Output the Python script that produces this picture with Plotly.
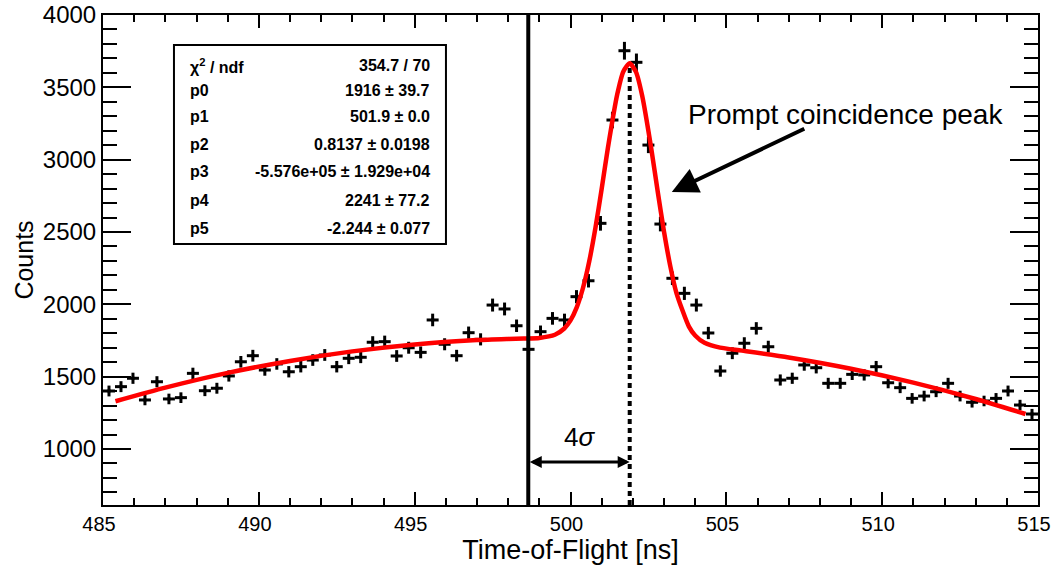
import numpy as np
import plotly.graph_objects as go

# ---------------- data ----------------
BIN_LO, BIN_HI, N_BINS = 485.0, 515.0, 78
COUNTS = [1401, 1431, 1489, 1339, 1465, 1346, 1355, 1523, 1403, 1420,
          1505, 1603, 1645, 1546, 1588, 1534, 1569, 1615, 1650, 1569,
          1627, 1634, 1738, 1742, 1643, 1700, 1668, 1892, 1724, 1645,
          1804, 1758, 1995, 1968, 1852, 1689, 1811, 1903, 1892, 2053,
          2163, 2560, 3274, 3753, 3673, 3101, 2555, 2180, 2076, 1995,
          1802, 1539, 1662, 1731, 1834, 1707, 1477, 1489, 1581, 1562,
          1454, 1454, 1516, 1512, 1569, 1458, 1424, 1350, 1366, 1396,
          1454, 1366, 1323, 1332, 1350, 1401, 1304, 1242]

FIT_X = [485.4, 487, 489, 491, 493, 495, 497, 498, 498.5, 499, 499.5, 499.8,
         500, 500.2, 500.4, 500.6, 500.8, 501.0, 501.2, 501.5, 501.7, 501.9,
         502.1, 502.3, 502.6, 502.8, 503.0, 503.2, 503.4, 503.8, 504.0, 504.3,
         504.8, 505.5, 507, 509, 511, 513, 514.6]
FIT_Y = [1330, 1424, 1526, 1609, 1675, 1723, 1753, 1761, 1764, 1768, 1790, 1833,
         1889, 1979, 2113, 2296, 2528, 2798, 3081, 3452, 3612, 3667,
         3607, 3442, 3065, 2777, 2503, 2266, 2078, 1846, 1785, 1734,
         1701, 1680, 1633, 1555, 1459, 1346, 1242]

FIT_MEAN = 501.9
FIT_SIGMA = 0.8137

STAT_NAMES = ["χ<sup>2</sup> / ndf", "p0", "p1", "p2", "p3", "p4", "p5"]
STAT_VALUES = ["354.7 / 70", "1916 ± 39.7", "501.9 ± 0.0", "0.8137 ± 0.0198",
               "-5.576e+05 ± 1.929e+04", "2241 ± 77.2", "-2.244 ± 0.077"]

X_TICKS = [485, 490, 495, 500, 505, 510, 515]
Y_TICKS = [1000, 1500, 2000, 2500, 3000, 3500, 4000]
X_RANGE = [485, 515.0001]
Y_RANGE = [613, 4000.0001]

PEAK_LABEL = "Prompt coincidence peak"
PEAK_LABEL_POS = (503.7, 3309)
ARROW_TAIL = (507.55, 3219)
ARROW_HEAD = (503.25, 2777)
SIGMA_ARROW_Y = 910
SIGMA_LABEL_POS = (500.3, 1083)

FONT = "Liberation Sans"

# ---------------- figure ----------------
bin_width = (BIN_HI - BIN_LO) / N_BINS
centers = BIN_LO + bin_width * (np.arange(N_BINS) + 0.5)

fig = go.Figure()
fig.add_trace(go.Scatter(
    x=centers, y=COUNTS, mode="markers",
    marker=dict(color="black", size=3, symbol="square"),
    error_x=dict(type="constant", value=bin_width / 2, thickness=3, width=0, color="black"),
    error_y=dict(type="sqrt", thickness=3, width=0, color="black"),
    hoverinfo="x+y",
))
fig.add_trace(go.Scatter(
    x=FIT_X, y=FIT_Y, mode="lines",
    line=dict(color="#ff0000", width=4.5, shape="spline", smoothing=0.6),
))

left_edge = FIT_MEAN - 4 * FIT_SIGMA
shapes = [
    dict(type="line", xref="x", yref="y domain", x0=left_edge, x1=left_edge, y0=0, y1=1,
         line=dict(color="black", width=4)),
    dict(type="line", xref="x", yref="y", x0=FIT_MEAN, x1=FIT_MEAN, y0=Y_RANGE[0], y1=max(FIT_Y),
         line=dict(color="black", width=4, dash="5px,4px"), layer="below"),
    dict(type="rect", xref="paper", yref="paper", x0=0.0759, x1=0.3668, y0=0.5327, y1=0.9388,
         line=dict(color="black", width=2), fillcolor="white"),
]

annotations = []
row_y = [0.8965, 0.8469, 0.7924, 0.7347, 0.6802, 0.6224, 0.5653]
for name, val, yy in zip(STAT_NAMES, STAT_VALUES, row_y):
    annotations.append(dict(xref="paper", yref="paper", x=0.0909, y=yy, text=name,
                            showarrow=False, xanchor="left", yanchor="middle",
                            font=dict(family=FONT, size=16, color="black", weight="bold")))
    annotations.append(dict(xref="paper", yref="paper", x=0.3519, y=yy, text=val,
                            showarrow=False, xanchor="right", yanchor="middle",
                            font=dict(family=FONT, size=16, color="black", weight="bold")))

annotations.append(dict(x=PEAK_LABEL_POS[0], y=PEAK_LABEL_POS[1], xref="x", yref="y",
                        text=PEAK_LABEL, showarrow=False, xanchor="left", yanchor="middle",
                        font=dict(family=FONT, size=28, color="black")))
annotations.append(dict(x=ARROW_HEAD[0], y=ARROW_HEAD[1], ax=ARROW_TAIL[0], ay=ARROW_TAIL[1],
                        xref="x", yref="y", axref="x", ayref="y", text="",
                        showarrow=True, arrowhead=2, arrowsize=1.3, arrowwidth=4,
                        arrowcolor="black"))
annotations.append(dict(x=FIT_MEAN, y=SIGMA_ARROW_Y, ax=left_edge, ay=SIGMA_ARROW_Y,
                        xref="x", yref="y", axref="x", ayref="y", text="",
                        showarrow=True, arrowhead=2, startarrowhead=2, arrowside="end+start",
                        arrowsize=0.8, startarrowsize=0.8, arrowwidth=3, arrowcolor="black"))
annotations.append(dict(x=SIGMA_LABEL_POS[0], y=SIGMA_LABEL_POS[1], xref="x", yref="y",
                        text="4<i>σ</i>", showarrow=False, xanchor="center", yanchor="middle",
                        font=dict(family=FONT, size=26, color="black")))

fig.update_layout(
    width=1051, height=570,
    margin=dict(l=103, r=13, t=15, b=65, autoexpand=False),
    paper_bgcolor="white", plot_bgcolor="white",
    showlegend=False,
    font=dict(family=FONT, color="black"),
    shapes=shapes, annotations=annotations,
    xaxis=dict(range=X_RANGE, tickvals=X_TICKS, ticks="inside", ticklen=13, tickwidth=2,
               tickcolor="black", showline=True, linewidth=2, linecolor="black",
               mirror="ticks", showgrid=False, zeroline=False, automargin=False,
               ticklabeloverflow="allow", ticklabelshift=-4,
               tickfont=dict(family=FONT, size=20, color="black"),
               minor=dict(dtick=1, tick0=485, ticks="inside", ticklen=7, tickwidth=2,
                          tickcolor="black", showgrid=False),
               title=dict(text="Time-of-Flight [ns]", standoff=6,
                          font=dict(family=FONT, size=27, color="black"))),
    yaxis=dict(range=Y_RANGE, tickvals=Y_TICKS, ticks="inside", ticklen=28, tickwidth=2,
               tickcolor="black", showline=True, linewidth=2, linecolor="black",
               mirror="ticks", showgrid=False, zeroline=False, automargin=False,
               ticklabeloverflow="allow",
               tickfont=dict(family=FONT, size=24, color="black"),
               minor=dict(dtick=100, tick0=0, ticks="inside", ticklen=14, tickwidth=2,
                          tickcolor="black", showgrid=False),
               title=dict(text="Counts", standoff=2,
                          font=dict(family=FONT, size=25, color="black"))),
)

fig.write_html("out.html")
